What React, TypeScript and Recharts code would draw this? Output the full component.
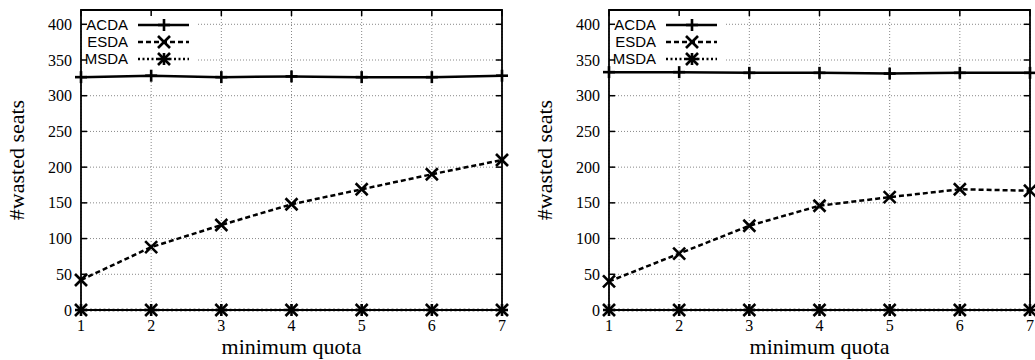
import { LineChart, Line, XAxis, YAxis, CartesianGrid, ReferenceArea, Customized } from 'recharts'

const quotas = [1, 2, 3, 4, 5, 6, 7]
const seriesNames = ['ACDA', 'ESDA', 'MSDA']
const yTicks = [0, 50, 100, 150, 200, 250, 300, 350, 400]

const leftAcda = [326, 328, 326, 327, 326, 326, 328]
const leftEsda = [42, 88, 119, 148, 169, 190, 210]
const leftMsda = [0, 0, 0, 0, 0, 0, 0]

const rightAcda = [333, 333, 332, 332, 331, 332, 332]
const rightEsda = [40, 79, 118, 146, 158, 169, 167]
const rightMsda = [0, 0, 0, 0, 0, 0, 0]

const PLOT_LEFT = 81
const PLOT_TOP = 10
const PLOT_W = 421
const PLOT_H = 300
const SERIF = '"Liberation Serif", "Times New Roman", serif'
const SANS = '"Liberation Sans", Arial, sans-serif'

const dashes: Record<string, string | undefined> = { ACDA: undefined, ESDA: '5 3', MSDA: '2 2.5' }
const markerKind: Record<string, string> = { ACDA: 'plus', ESDA: 'cross', MSDA: 'star' }

function Marker({ kind, cx, cy }: { kind: string; cx: number; cy: number }) {
  const r = 6
  const sw = 2.6
  const plus = (
    <>
      <line x1={cx - r} x2={cx + r} y1={cy} y2={cy} stroke="#000" strokeWidth={sw} />
      <line x1={cx} x2={cx} y1={cy - r} y2={cy + r} stroke="#000" strokeWidth={sw} />
    </>
  )
  const cross = (
    <>
      <line x1={cx - r} x2={cx + r} y1={cy - r} y2={cy + r} stroke="#000" strokeWidth={sw} />
      <line x1={cx - r} x2={cx + r} y1={cy + r} y2={cy - r} stroke="#000" strokeWidth={sw} />
    </>
  )
  return (
    <g>
      {(kind === 'plus' || kind === 'star') && plus}
      {(kind === 'cross' || kind === 'star') && cross}
    </g>
  )
}

function YTick(props: any) {
  const { x, y, payload } = props
  const right = PLOT_LEFT + PLOT_W
  return (
    <g>
      <text x={x} y={y} dy="0.35em" textAnchor="end" fontFamily={SERIF} fontSize={16} fill="#000">
        {payload.value}
      </text>
      <line x1={PLOT_LEFT} x2={PLOT_LEFT + 6} y1={y} y2={y} stroke="#000" strokeWidth={1.5} />
      <line x1={right - 6} x2={right} y1={y} y2={y} stroke="#000" strokeWidth={1.5} />
    </g>
  )
}

function XTick(props: any) {
  const { x, payload } = props
  const bottom = PLOT_TOP + PLOT_H
  return (
    <g>
      <text x={x} y={bottom + 21} textAnchor="middle" fontFamily={SERIF} fontSize={16} fill="#000">
        {payload.value}
      </text>
      <line x1={x} x2={x} y1={bottom} y2={bottom - 6} stroke="#000" strokeWidth={1.5} />
      <line x1={x} x2={x} y1={PLOT_TOP} y2={PLOT_TOP + 6} stroke="#000" strokeWidth={1.5} />
    </g>
  )
}

function Decorations() {
  return (
    <g>
      <rect x={PLOT_LEFT + 1} y={PLOT_TOP + 1} width={114} height={58} fill="#fff" />
      {seriesNames.map((name, i) => {
        const cy = 25 + i * 17
        return (
          <g key={name}>
            <text x={128} y={cy} dy="0.35em" textAnchor="end" fontFamily={SANS} fontSize={15} fill="#000">
              {name}
            </text>
            <line x1={138} x2={189} y1={cy} y2={cy} stroke="#000" strokeWidth={2.5} strokeDasharray={dashes[name]} />
            <Marker kind={markerKind[name]} cx={164} cy={cy} />
          </g>
        )
      })}
      <text
        x={16}
        y={PLOT_TOP + PLOT_H / 2}
        transform={`rotate(-90 16 ${PLOT_TOP + PLOT_H / 2})`}
        textAnchor="middle"
        dominantBaseline="central"
        fontFamily={SERIF}
        fontSize={22}
        fill="#000"
      >
        #wasted seats
      </text>
      <text x={PLOT_LEFT + PLOT_W / 2} y={354} textAnchor="middle" fontFamily={SERIF} fontSize={22} fill="#000">
        minimum quota
      </text>
    </g>
  )
}

function Panel({ acda, esda, msda, width }: { acda: number[]; esda: number[]; msda: number[]; width: number }) {
  const rows = quotas.map((q, i) => ({ q, ACDA: acda[i], ESDA: esda[i], MSDA: msda[i] }))
  return (
    <LineChart
      width={width}
      height={360}
      data={rows}
      margin={{ top: PLOT_TOP, right: width - PLOT_LEFT - PLOT_W, bottom: 0, left: 0 }}
    >
      <CartesianGrid stroke="#888" strokeDasharray="1 2" />
      <XAxis
        dataKey="q"
        type="number"
        domain={[1, 7]}
        ticks={quotas}
        interval={0}
        height={50}
        tickSize={0}
        tickMargin={0}
        axisLine={false}
        tickLine={false}
        tick={<XTick />}
      />
      <YAxis
        type="number"
        domain={[0, 420]}
        ticks={yTicks}
        interval={0}
        width={PLOT_LEFT}
        tickSize={0}
        tickMargin={9}
        axisLine={false}
        tickLine={false}
        tick={<YTick />}
      />
      <Customized component={<Decorations />} />
      <ReferenceArea x1={1} x2={7} y1={0} y2={420} fill="none" stroke="#000" strokeWidth={1.8} />
      {seriesNames.map((name) => (
        <Line
          key={name}
          type="linear"
          dataKey={name}
          stroke="#000"
          strokeWidth={2.5}
          strokeDasharray={dashes[name]}
          isAnimationActive={false}
          dot={(p: any) => <Marker key={`${name}-${p.index}`} kind={markerKind[name]} cx={p.cx} cy={p.cy} />}
        />
      ))}
    </LineChart>
  )
}

export default function App() {
  return (
    <div style={{ position: 'absolute', left: 0, top: 0, width: 1035, height: 360, overflow: 'hidden', background: '#fff' }}>
      <div style={{ position: 'absolute', left: 0, top: 0 }}>
        <Panel acda={leftAcda} esda={leftEsda} msda={leftMsda} width={517} />
      </div>
      <div style={{ position: 'absolute', left: 528, top: 0 }}>
        <Panel acda={rightAcda} esda={rightEsda} msda={rightMsda} width={507} />
      </div>
    </div>
  )
}
